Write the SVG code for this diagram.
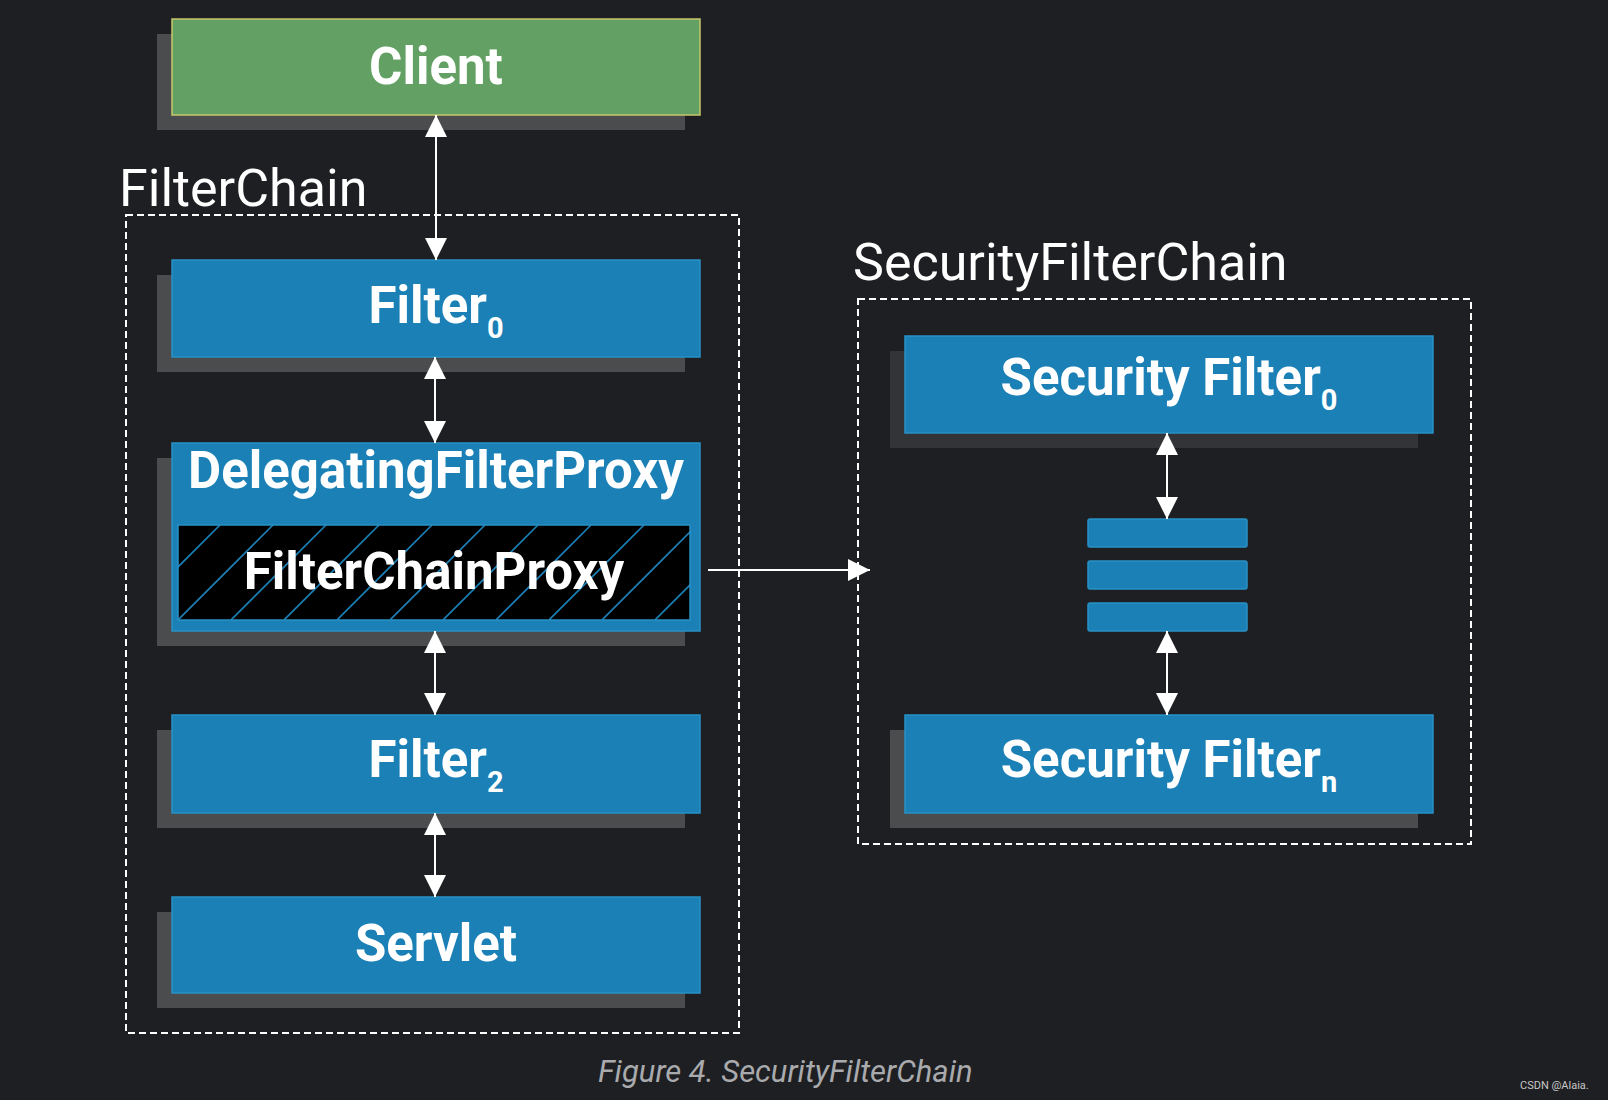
<svg xmlns="http://www.w3.org/2000/svg" width="1608" height="1100" viewBox="0 0 1608 1100">
<defs>
<style>
.shadow{fill:#4b4c4e}
.shadow2{fill:#333437}
.blue{fill:#1b80b6;stroke:#2891c6;stroke-width:1.5}
.lbl{font-family:Roboto,"Liberation Sans",sans-serif;font-weight:bold;font-size:51px;fill:#ffffff;text-anchor:middle}
.sub{font-size:29px}
.title{font-family:Roboto,"Liberation Sans",sans-serif;font-size:52px;fill:#ffffff}
.dash{fill:none;stroke:#ffffff;stroke-width:2;stroke-dasharray:7 4}
.conn{stroke:#ffffff;stroke-width:2;fill:none}
</style>
<marker id="ah" viewBox="0 0 20 20" refX="20" refY="10" markerWidth="22" markerHeight="22" markerUnits="userSpaceOnUse" orient="auto-start-reverse">
<path d="M0,0 L20,10 L0,20 Z" fill="#ffffff"/>
</marker>
<pattern id="hatch" patternUnits="userSpaceOnUse" width="53" height="95" x="178" y="525">
<rect width="53" height="95" fill="#000000"/>
<path d="M-53,95 L42,0 M0,95 L95,0 M-106,95 L-11,0" stroke="#1b80b6" stroke-width="1.6"/>
</pattern>
</defs>
<rect width="1608" height="1100" fill="#1e1f22"/>

<text class="title" x="119" y="206">FilterChain</text>
<rect class="dash" x="126" y="215" width="613" height="818"/>
<text class="title" x="853" y="280">SecurityFilterChain</text>
<rect class="dash" x="858" y="299" width="613" height="545"/>

<g id="client">
<rect class="shadow" x="157" y="34" width="528" height="96"/>
<rect x="172" y="19" width="528" height="96" fill="#62a063" stroke="#c9c66c" stroke-width="1.5"/>
<text class="lbl" x="436" y="84">Client</text>
</g>
<g id="filter0">
<rect class="shadow" x="157" y="275" width="528" height="97"/>
<rect class="blue" x="172" y="260" width="528" height="97"/>
<text class="lbl" x="436" y="323">Filter<tspan class="sub" dy="15">0</tspan></text>
</g>
<g id="delegating">
<rect class="shadow" x="157" y="458" width="528" height="188"/>
<rect class="blue" x="172" y="443" width="528" height="188"/>
<text class="lbl" x="436" y="488">DelegatingFilterProxy</text>
<rect x="178" y="525" width="512" height="95" fill="url(#hatch)" stroke="#2891c6" stroke-width="1.5"/>
<text class="lbl" x="434" y="589">FilterChainProxy</text>
</g>
<g id="filter2">
<rect class="shadow" x="157" y="730" width="528" height="98"/>
<rect class="blue" x="172" y="715" width="528" height="98"/>
<text class="lbl" x="436" y="777">Filter<tspan class="sub" dy="15">2</tspan></text>
</g>
<g id="servlet">
<rect class="shadow" x="157" y="912" width="528" height="96"/>
<rect class="blue" x="172" y="897" width="528" height="96"/>
<text class="lbl" x="436" y="961">Servlet</text>
</g>
<g id="secfilter0">
<rect class="shadow2" x="890" y="351" width="528" height="97"/>
<rect class="blue" x="905" y="336" width="528" height="97"/>
<text class="lbl" x="1169" y="395">Security Filter<tspan class="sub" dy="15">0</tspan></text>
</g>
<g id="dots">
<rect class="blue" x="1088" y="519" width="159" height="28" rx="2"/>
<rect class="blue" x="1088" y="561" width="159" height="28" rx="2"/>
<rect class="blue" x="1088" y="603" width="159" height="28" rx="2"/>
</g>
<g id="secfiltern">
<rect class="shadow" x="890" y="730" width="528" height="98"/>
<rect class="blue" x="905" y="715" width="528" height="98"/>
<text class="lbl" x="1169" y="777">Security Filter<tspan class="sub" dy="15">n</tspan></text>
</g>

<g id="connectors">
<line class="conn" x1="436" y1="115" x2="436" y2="260" marker-start="url(#ah)" marker-end="url(#ah)"/>
<line class="conn" x1="435" y1="357" x2="435" y2="443" marker-start="url(#ah)" marker-end="url(#ah)"/>
<line class="conn" x1="435" y1="631" x2="435" y2="715" marker-start="url(#ah)" marker-end="url(#ah)"/>
<line class="conn" x1="435" y1="813" x2="435" y2="897" marker-start="url(#ah)" marker-end="url(#ah)"/>
<line class="conn" x1="708" y1="570" x2="870" y2="570" marker-end="url(#ah)"/>
<line class="conn" x1="1167" y1="433" x2="1167" y2="519" marker-start="url(#ah)" marker-end="url(#ah)"/>
<line class="conn" x1="1167" y1="631" x2="1167" y2="715" marker-start="url(#ah)" marker-end="url(#ah)"/>
</g>

<text x="598" y="1082" font-family="Roboto,'Liberation Sans',sans-serif" font-style="italic" font-size="31" fill="#a9aaad">Figure 4. SecurityFilterChain</text>
<text x="1520" y="1089" font-family="Roboto,'Liberation Sans',sans-serif" font-size="11" fill="#c8c8c8">CSDN @Alaia.</text>
</svg>
